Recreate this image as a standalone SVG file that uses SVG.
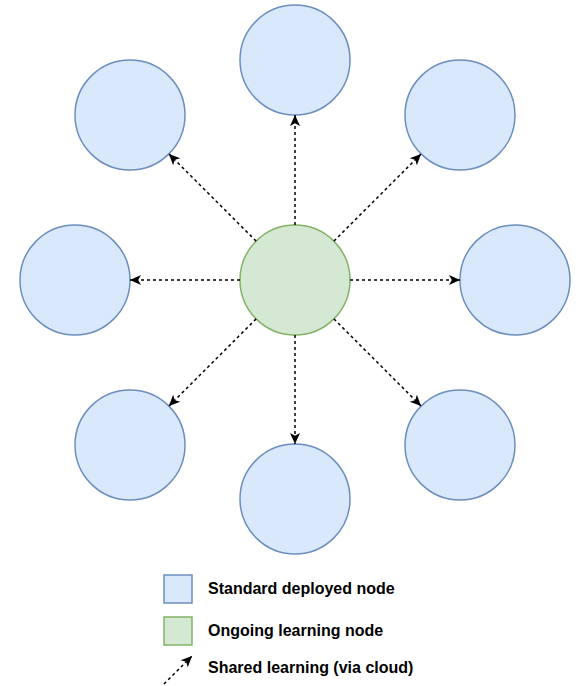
<svg xmlns="http://www.w3.org/2000/svg" width="578" height="686" viewBox="0 0 578 686">
<style>
.std{fill:#dae8fc;stroke:#6c8ebf;stroke-width:1.5}
.ong{fill:#d5e8d4;stroke:#82b366;stroke-width:1.5}
.edge{fill:none;stroke:#000;stroke-width:1.5;stroke-dasharray:3 3;marker-end:url(#arr)}
.lbl{font-family:"Liberation Sans",Arial,sans-serif;font-size:16px;font-weight:bold;fill:#000}
</style>
<defs>
<marker id="arr" markerUnits="userSpaceOnUse" markerWidth="13" markerHeight="13" viewBox="0 0 13 13" refX="12" refY="6.5" orient="auto">
<path d="M1,1.5 L12,6.5 L1,11.5 L3.8,6.5 z" fill="#000"/>
</marker>
</defs>
<rect width="578" height="686" fill="#fff"/>
<g id="node-top"><circle class="std" cx="295" cy="60" r="55"/></g>
<g id="node-top-right"><circle class="std" cx="460" cy="115" r="55"/></g>
<g id="node-right"><circle class="std" cx="515" cy="280" r="55"/></g>
<g id="node-bottom-right"><circle class="std" cx="460" cy="445" r="55"/></g>
<g id="node-bottom"><circle class="std" cx="295" cy="499" r="55"/></g>
<g id="node-bottom-left"><circle class="std" cx="130" cy="445" r="55"/></g>
<g id="node-left"><circle class="std" cx="75" cy="280" r="55"/></g>
<g id="node-top-left"><circle class="std" cx="130" cy="115" r="55"/></g>
<g id="node-center"><circle class="ong" cx="295" cy="280" r="55"/></g>
<g id="connectors">
<line class="edge" x1="295" y1="225" x2="295" y2="115"/>
<line class="edge" x1="333.9" y1="241.1" x2="421.1" y2="153.9"/>
<line class="edge" x1="350" y1="280" x2="460" y2="280"/>
<line class="edge" x1="333.9" y1="318.9" x2="421.1" y2="406.1"/>
<line class="edge" x1="295" y1="335" x2="295" y2="444"/>
<line class="edge" x1="256.1" y1="318.9" x2="168.9" y2="406.1"/>
<line class="edge" x1="240" y1="280" x2="130" y2="280"/>
<line class="edge" x1="256.1" y1="241.1" x2="168.9" y2="153.9"/>
</g>
<g id="legend">
<rect class="std" x="164" y="575" width="28" height="28"/>
<text class="lbl" x="208" y="594">Standard deployed node</text>
<rect class="ong" x="164" y="617" width="28" height="28"/>
<text class="lbl" x="208" y="636">Ongoing learning node</text>
<line class="edge" x1="164" y1="684" x2="192" y2="656"/>
<text class="lbl" x="208" y="673">Shared learning (via cloud)</text>
</g>
</svg>
